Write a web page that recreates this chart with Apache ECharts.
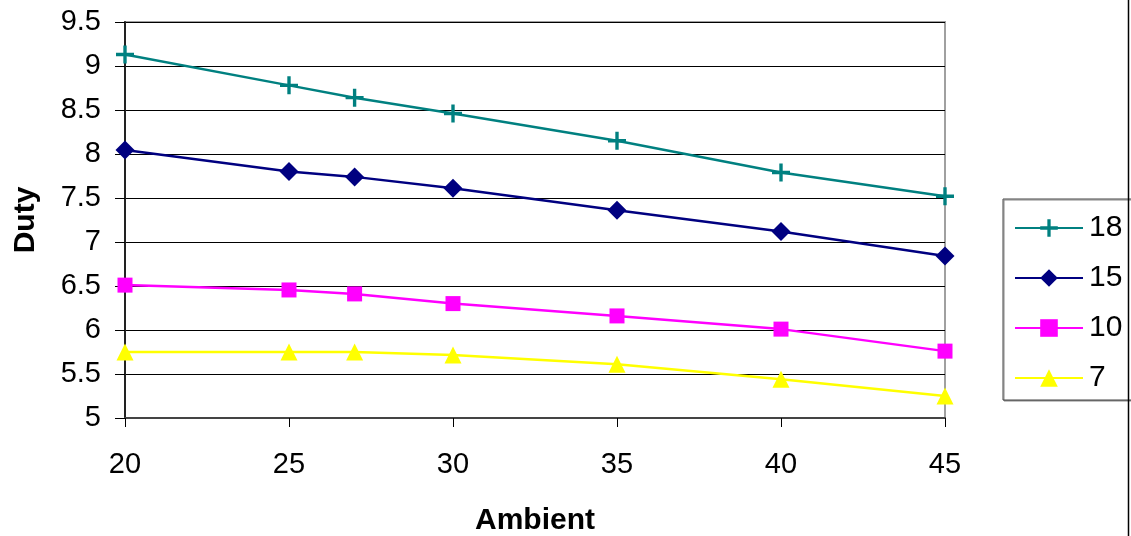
<!DOCTYPE html>
<html>
<head>
<meta charset="utf-8">
<script src="https://cdn.jsdelivr.net/npm/echarts@6/dist/echarts.min.js"></script>
<style>
html,body{margin:0;padding:0;background:#fff;}
#c{width:1131px;height:536px;}
</style>
</head>
<body>
<div id="c"></div>
<script>
var ambient = [20, 25, 27, 30, 35, 40, 45];
var seriesNames = ['18', '15', '10', '7'];
var duty18 = [9.13, 8.78, 8.64, 8.46, 8.15, 7.79, 7.52];
var duty15 = [8.045, 7.80, 7.74, 7.61, 7.36, 7.12, 6.84];
var duty10 = [6.51, 6.455, 6.41, 6.30, 6.16, 6.01, 5.76];
var duty7  = [5.75, 5.75, 5.75, 5.715, 5.61, 5.44, 5.25];

var colors = ['#008080', '#000080', '#FF00FF', '#FFFF00'];
var plusPath = 'path://M6.5,0h3v6.5h6.5v3h-6.5v6.5h-3v-6.5h-6.5v-3h6.5z';
var symbols = [plusPath, 'diamond', 'rect', 'triangle'];
var sizes = [18, 19, 15, 17];
var allData = [duty18, duty15, duty10, duty7];

function pairs(ys) {
  return ambient.map(function (x, i) { return [x, ys[i]]; });
}

var font = '"Liberation Sans", Arial, sans-serif';

var series = allData.map(function (ys, i) {
  return {
    name: seriesNames[i],
    type: 'line',
    data: pairs(ys),
    symbol: symbols[i],
    symbolSize: sizes[i],
    showSymbol: true,
    lineStyle: { color: colors[i], width: 2.5 },
    itemStyle: { color: colors[i], borderWidth: 0 },
    emphasis: { disabled: true },
    clip: false,
    z: 3
  };
});

var chart = echarts.init(document.getElementById('c'), null, { renderer: 'canvas' });
chart.setOption({
  animation: false,
  backgroundColor: '#fff',
  color: colors,
  grid: {
    left: 125, right: 186, top: 22, bottom: 118,
    outerBoundsMode: 'none',
    containLabel: false,
    show: true, borderColor: '#a0a0a0', borderWidth: 2, backgroundColor: 'transparent'
  },
  xAxis: {
    type: 'value',
    min: 20, max: 45, interval: 5,
    name: 'Ambient',
    nameLocation: 'middle',
    nameGap: 88,
    nameTextStyle: { fontFamily: font, fontSize: 30, fontWeight: 'bold', color: '#000' },
    axisLine: { show: true, lineStyle: { color: '#444', width: 2 } },
    axisTick: { show: true, length: 9, lineStyle: { color: '#000', width: 1 } },
    axisLabel: { margin: 32, fontFamily: font, fontSize: 29, color: '#000' },
    splitLine: { show: false }
  },
  yAxis: {
    type: 'value',
    min: 5, max: 9.5, interval: 0.5,
    name: 'Duty',
    nameLocation: 'middle',
    nameGap: 84,
    nameRotate: 90,
    nameTextStyle: { fontFamily: font, fontSize: 30, fontWeight: 'bold', color: '#000' },
    axisLine: { show: true, lineStyle: { color: '#222', width: 2 } },
    axisTick: { show: true, length: 10, lineStyle: { color: '#000', width: 1 } },
    axisLabel: { margin: 24, fontFamily: font, fontSize: 29, color: '#000' },
    splitLine: { show: true, lineStyle: { color: '#000', width: 1 } }
  },
  legend: {
    orient: 'vertical',
    left: 1003,
    top: 199,
    width: 125,
    data: seriesNames,
    itemWidth: 68,
    itemHeight: 22,
    itemGap: 20,
    padding: [14, 10, 7, 11],
    borderColor: '#444',
    borderWidth: 1,
    shadowColor: '#888',
    shadowBlur: 0,
    shadowOffsetX: 1,
    shadowOffsetY: 1,
    backgroundColor: '#fff',
    selectedMode: false,
    textStyle: { fontFamily: font, fontSize: 30, color: '#000', lineHeight: 30, padding: [0, 0, 0, 1] }
  },
  graphic: [{
    type: 'line',
    shape: { x1: 1128.5, y1: 0, x2: 1128.5, y2: 536 },
    style: { stroke: '#000', lineWidth: 1.5 },
    z: 10
  }],
  series: series
});
</script>
</body>
</html>
